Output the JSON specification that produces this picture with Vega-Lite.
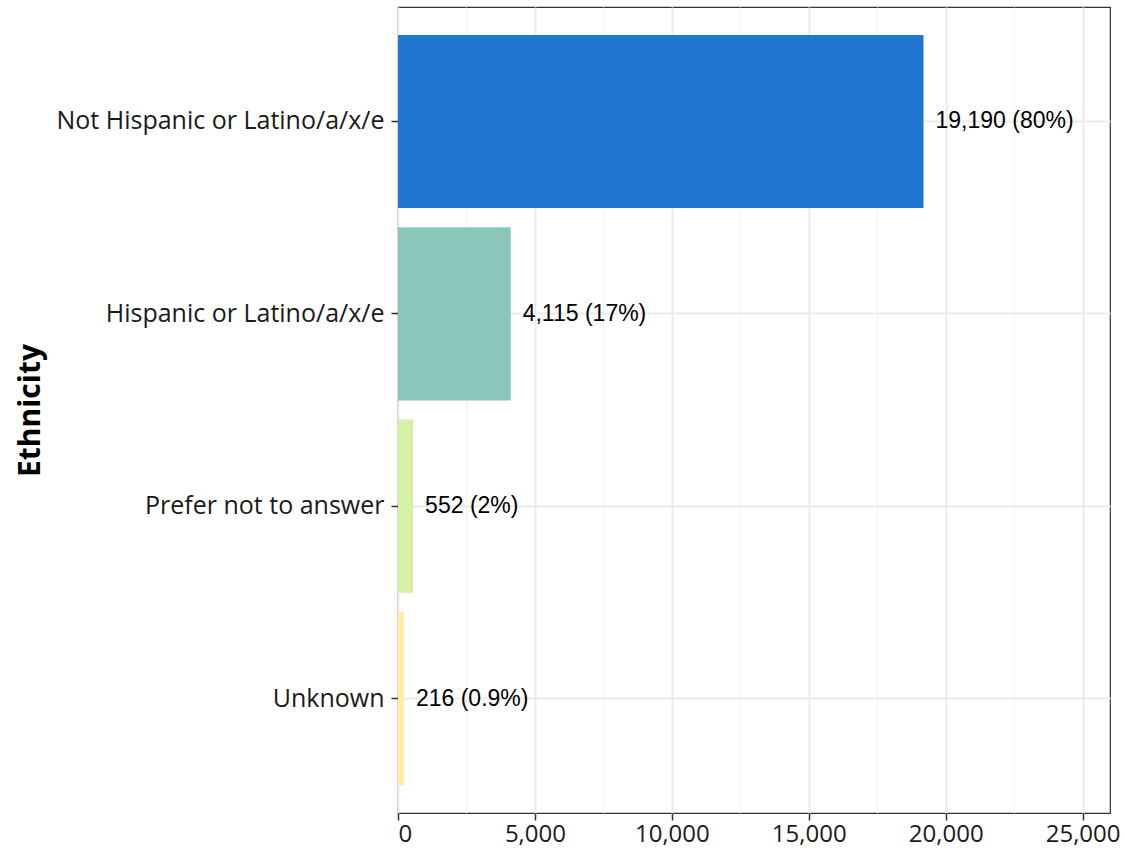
{
  "$schema": "https://vega.github.io/schema/vega-lite/v6.json",
  "autosize": {"type": "none"},
  "padding": {"left": 398, "top": 7, "right": 14, "bottom": 40},
  "width": 712,
  "height": 806,
  "background": "white",
  "config": {
    "view": {"stroke": "#333333", "strokeWidth": 1.2},
    "font": "Open Sans"
  },
  "data": {
    "values": [
      {"ethnicity": "Not Hispanic or Latino/a/x/e", "n": 19190, "label": "19,190 (80%)"},
      {"ethnicity": "Hispanic or Latino/a/x/e", "n": 4115, "label": "4,115 (17%)"},
      {"ethnicity": "Prefer not to answer", "n": 552, "label": "552 (2%)"},
      {"ethnicity": "Unknown", "n": 216, "label": "216 (0.9%)"}
    ]
  },
  "encoding": {
    "y": {
      "field": "ethnicity",
      "type": "nominal",
      "sort": null,
      "scale": {"paddingInner": 0.1, "paddingOuter": 0.145},
      "axis": {
        "title": "Ethnicity",
        "titleFont": "Open Sans",
        "titleFontSize": 30,
        "titleFontWeight": "bold",
        "titleColor": "black",
        "titleX": -368,
        "titleBaseline": "middle",
        "titleAngle": -90,
        "labelFont": "Open Sans",
        "labelFontSize": 25,
        "labelLimit": 0,
        "labelColor": "#1a1a1a",
        "labelPadding": 7,
        "tickSize": 7,
        "tickColor": "#333333",
        "tickWidth": 1.5,
        "domain": false,
        "grid": true,
        "gridColor": "#EBEBEB",
        "gridWidth": 2,
        "bandPosition": 0.5
      }
    },
    "x": {
      "field": "n",
      "type": "quantitative",
      "scale": {"domain": [0, 26000], "nice": false, "zero": true}
    }
  },
  "layer": [
    {
      "mark": {"type": "bar"},
      "encoding": {
        "x": {
          "field": "n",
          "type": "quantitative",
          "axis": {
            "title": null,
            "values": [0, 5000, 10000, 15000, 20000, 25000],
            "labelExpr": "format(datum.value, ',')",
            "labelFont": "Open Sans",
            "labelFontSize": 24,
            "labelColor": "#1a1a1a",
            "labelPadding": 2,
            "tickSize": 7,
            "tickColor": "#333333",
            "tickWidth": 1.5,
            "domain": false,
            "grid": true,
            "gridColor": "#EBEBEB",
            "gridWidth": 2,
            "zindex": 0
          }
        },
        "color": {
          "field": "ethnicity",
          "type": "nominal",
          "sort": null,
          "legend": null,
          "scale": {
            "domain": ["Not Hispanic or Latino/a/x/e", "Hispanic or Latino/a/x/e", "Prefer not to answer", "Unknown"],
            "range": ["#2176D2", "#89C7BA", "#D3F2A8", "#FFEE9F"]
          }
        }
      }
    },
    {
      "mark": {"type": "text", "align": "left", "baseline": "middle", "dx": 12, "font": "Liberation Sans", "fontSize": 23, "color": "black"},
      "encoding": {
        "x": {
          "field": "n",
          "type": "quantitative",
          "axis": {
            "orient": "bottom",
            "title": null,
            "values": [2500, 7500, 12500, 17500, 22500],
            "labels": false,
            "ticks": false,
            "domain": false,
            "grid": true,
            "gridColor": "#F2F2F2",
            "gridWidth": 1,
            "zindex": 0
          }
        },
        "text": {"field": "label"}
      }
    }
  ],
  "resolve": {"axis": {"x": "independent"}}
}
